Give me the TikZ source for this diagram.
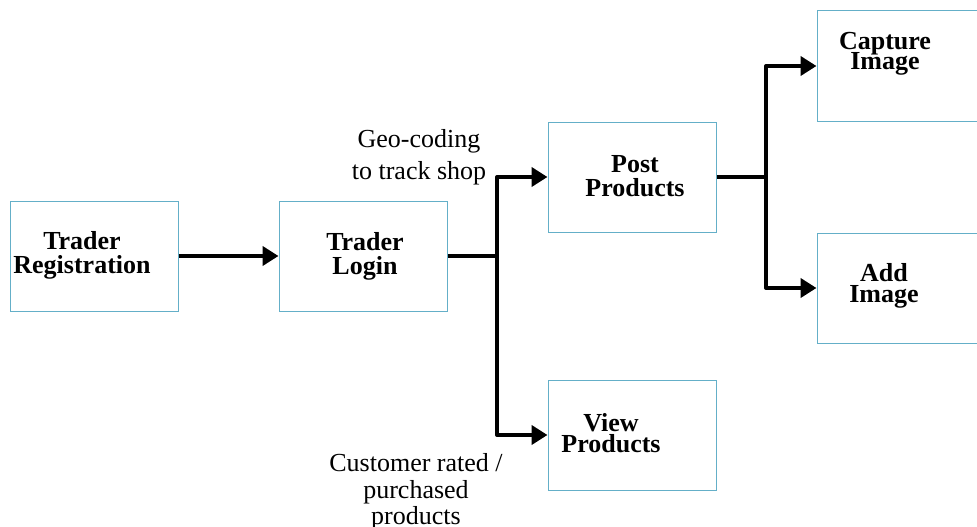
\documentclass[tikz,border=0pt]{standalone}
\usepackage{fontspec}
\setmainfont{Liberation Serif}
\usetikzlibrary{arrows.meta}
\definecolor{boxc}{RGB}{100,175,200}
\newcommand\mytightls{\lineskiplimit=-100pt\relax}
\begin{document}
\begin{tikzpicture}[x=1pt,y=-1pt,
 box/.style={draw=boxc,line width=1pt,fill=white,minimum width=168pt,minimum height=110pt,inner sep=0pt},
 lbl/.style={font=\bfseries\fontsize{26}{#1}\selectfont\mytightls,align=center,inner sep=0pt},
 note/.style={font=\fontsize{26}{#1}\selectfont\mytightls,align=center,inner sep=0pt},
 conn/.style={line width=4pt,line join=round,-{Triangle[length=16pt,width=19pt]}},
 plain/.style={line width=4pt,line join=round}]
\useasboundingbox (0,0) rectangle (977,527);
\fill[white] (0,0) rectangle (977,527);
% boxes
\node[box] (reg) at (94,256) {};
\node[box] (login) at (363,256) {};
\node[box] (post) at (632,177) {};
\node[box] (view) at (632,435) {};
\node[box] (cap) at (901,66) {};
\node[box] (add) at (901,288) {};
% labels
\node[lbl=24] (regT) at (82,255.5) {Trader\\Registration};
\node[lbl=24] (loginT) at (365,256) {Trader\\Login};
\node[lbl=24] (postT) at (635,176) {Post\\Products};
\node[lbl=21] (viewT) at (611,433) {View\\Products};
\node[lbl=20] (capT) at (885,54) {Capture\\Image};
\node[lbl=21] (addT) at (884,285.5) {Add\\Image};
\node[note=32] (geo) at (419,157) {Geo-coding\\to track shop};
\node[note=26.5] (cust) at (416,492) {Customer rated /\\purchased\\products};
% connectors
\coordinate (j1) at (497,256);
\coordinate (j2) at (766,177);
\draw[conn] (reg.east) -- (login.west);
\draw[plain] (login.east) -- (j1);
\draw[conn] (j1) |- (post.west);
\draw[conn] (j1) |- (view.west);
\draw[plain] (post.east) -- (j2);
\draw[conn] (j2) |- (cap.west);
\draw[conn] (j2) |- (add.west);
\end{tikzpicture}
\end{document}
